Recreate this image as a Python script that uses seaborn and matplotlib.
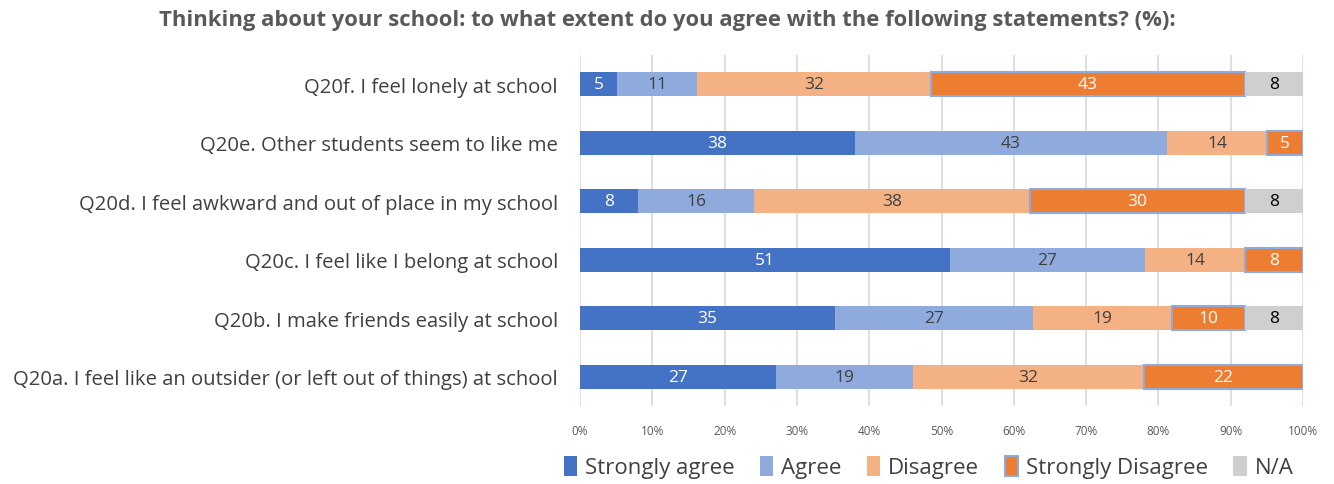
import matplotlib
matplotlib.use("Agg")
import matplotlib.pyplot as plt
import seaborn as sns
import pandas as pd
import numpy as np
from matplotlib.patches import Patch

categories = [
    "Q20f. I feel lonely at school",
    "Q20e. Other students seem to like me",
    "Q20d. I feel awkward and out of place in my school",
    "Q20c. I feel like I belong at school",
    "Q20b. I make friends easily at school",
    "Q20a. I feel like an outsider (or left out of things) at school",
]
series = ["Strongly agree", "Agree", "Disagree", "Strongly Disagree", "N/A"]
strongly_agree = [5.1, 38.0, 8.0, 51.2, 35.3, 27.1]
agree = [11.1, 43.2, 16.1, 26.9, 27.4, 19.0]
disagree = [32.3, 13.8, 38.1, 13.9, 19.2, 31.9]
strongly_disagree = [43.5, 5.0, 29.8, 8.0, 10.1, 22.0]
na = [8.0, 0.0, 8.0, 0.0, 8.0, 0.0]
labels_sa = [5, 38, 8, 51, 35, 27]
labels_ag = [11, 43, 16, 27, 27, 19]
labels_di = [32, 14, 38, 14, 19, 32]
labels_sd = [43, 5, 30, 8, 10, 22]
labels_na = [8, None, 8, None, 8, None]
xticks = [0, 10, 20, 30, 40, 50, 60, 70, 80, 90, 100]

colors = ["#4472C4", "#8FAADC", "#F4B183", "#ED7D31", "#D0CECE"]
text_colors = ["white", "#404040", "#404040", "white", "black"]
values = [strongly_agree, agree, disagree, strongly_disagree, na]
labels = [labels_sa, labels_ag, labels_di, labels_sd, labels_na]

sns.set_theme(style="white")
plt.rcParams["font.family"] = ["Open Sans", "DejaVu Sans"]

fig = plt.figure(figsize=(13.34, 4.85), dpi=100)
ax = fig.add_axes([0.4348, 0.1608, 0.542, 0.7237])

left = np.zeros(len(categories))
for i, (name, vals) in enumerate(zip(series, values)):
    df = pd.DataFrame({"cat": categories, "val": vals})
    n_before = len(ax.patches)
    sns.barplot(data=df, x="val", y="cat", orient="h", color=colors[i],
                width=0.41, ax=ax, saturation=1,
                edgecolor="#8FAADC" if i == 3 else "none",
                linewidth=1.5 if i == 3 else 0)
    new_patches = ax.patches[n_before:]
    for j, p in enumerate(new_patches):
        p.set_x(left[j])
        p.set_width(vals[j])
        p.set_zorder(3)
        if labels[i][j] is not None and vals[j] > 0:
            ax.text(left[j] + vals[j] / 2, j, str(labels[i][j]),
                    ha="center", va="center", fontsize=12.5,
                    color=text_colors[i], zorder=4)
    left += np.array(vals)

ax.set_xlim(0, 100)
ax.set_ylim(5.5, -0.5)
ax.set_xticks(xticks)
ax.set_xticklabels([f"{t}%" for t in xticks], fontsize=8.5, color="#595959")
ax.tick_params(axis="x", length=0, pad=13)
ax.tick_params(axis="y", length=0, pad=16, labelsize=14.6, labelcolor="#404040")
ax.set_xlabel("")
ax.set_ylabel("")
ax.grid(axis="x", color="#D9D9D9", linewidth=1.2, zorder=0)
ax.grid(axis="y", visible=False)
ax.set_axisbelow(True)
for s in ax.spines.values():
    s.set_visible(False)

fig.text(0.5, 0.957, "Thinking about your school: to what extent do you agree with the following statements? (%):",
         ha="center", va="center", fontsize=15.8, fontweight="bold", color="#595959")

handles = [Patch(facecolor=c, edgecolor=("#8FAADC" if k == 3 else "none"), linewidth=1.5 if k == 3 else 0)
           for k, c in enumerate(colors)]
fig.legend(handles, series, loc="center", bbox_to_anchor=(0.696, 0.035), ncol=5,
           frameon=False, fontsize=16, handlelength=0.6, handleheight=1.0,
           handletextpad=0.35, columnspacing=1.15, labelcolor="#404040")

fig.savefig("out.png", dpi=100)
